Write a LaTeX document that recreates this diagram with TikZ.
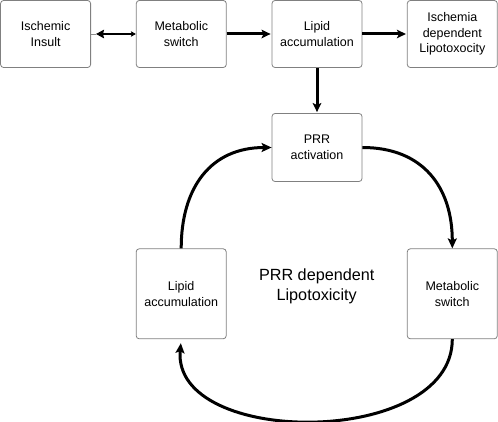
\documentclass[tikz,border=0pt]{standalone}
\usepackage{fontspec}
\setmainfont{Liberation Sans}
\usetikzlibrary{arrows.meta}
\begin{document}
\begin{tikzpicture}[x=1pt,y=1pt,
  box/.style={draw=black!50, line width=0.8pt, rounded corners=3pt, fill=white,
    minimum width=90pt, minimum height=67pt, align=center, inner sep=2pt,
    font=\fontsize{12.5}{15.5}\selectfont},
  tallbox/.style={box, minimum height=90pt},
  conn/.style={line width=3pt, shorten >=1pt, -{Stealth[length=9pt,width=8.5pt,inset=2pt]}},
  curve/.style={line width=3pt, -{Stealth[length=10pt,width=9pt,inset=2pt]}}
]
\useasboundingbox (0,0) rectangle (498,-422);
\node[box] (b1) at (45.6,-34) {Ischemic\\Insult};
\node[box] (b2) at (181.3,-34) {Metabolic\\switch};
\node[box] (b3) at (317,-34) {Lipid\\accumulation};
\node[box] (b4) at (452.3,-34) {Ischemia\\dependent\\Lipotoxocity};
\node[box, minimum height=68pt] (b5) at (317,-147.5) {PRR\\activation};
\node[tallbox] (b6) at (181.2,-293.8) {Lipid\\accumulation};
\node[tallbox] (b7) at (452.3,-293.8) {Metabolic\\switch};
\node[font=\fontsize{16.2}{20}\selectfont, align=center] (c) at (316.7,-286) {PRR dependent\\Lipotoxicity};

\draw[black!45, line width=0.6pt] (b1.east) -- ([xshift=5pt]b1.east) coordinate (g1);
\draw[line width=2.6pt, {Stealth[length=8pt,width=8.5pt,inset=1pt]}-{Stealth[length=5pt,width=5.5pt,inset=1pt]}] (g1) -- (b2.west);
\draw[conn] (b2) -- (b3);
\draw[conn] (b3) -- (b4);
\draw[conn] (b3) -- (b5);
\draw[curve] (b5.east) to[out=0,in=90,looseness=1.15] (b7.north);
\draw[curve, shorten >=4pt] (b7.south) to[out=-90,in=-95,looseness=1.03] (b6.south);
\draw[curve] (b6.north) to[out=90,in=180,looseness=1.15] (b5.west);
\end{tikzpicture}
\end{document}
